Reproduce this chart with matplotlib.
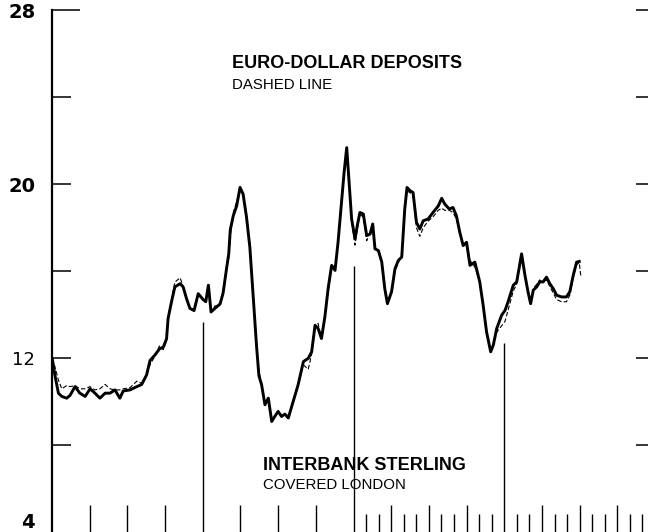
import numpy as np
import matplotlib
matplotlib.use('Agg')
import matplotlib.pyplot as plt

# time axis (one unit per major tick)
t = [0.01, 0.08, 0.17, 0.26, 0.39, 0.48, 0.61, 0.74, 0.88, 1.01,
     1.14, 1.27, 1.41, 1.54, 1.67, 1.80, 1.89, 2.07, 2.25, 2.38,
     2.51, 2.60, 2.73, 2.86, 2.95, 3.04, 3.08, 3.18, 3.26, 3.40,
     3.48, 3.57, 3.66, 3.77, 3.88, 4.01, 4.08, 4.15, 4.22, 4.32,
     4.46, 4.54, 4.63, 4.69, 4.73, 4.81, 4.90, 4.99, 5.07, 5.16,
     5.25, 5.34, 5.43, 5.49, 5.56, 5.65, 5.74, 5.83, 5.91, 6.00,
     6.09, 6.18, 6.27, 6.40, 6.53, 6.67, 6.80, 6.89, 6.98, 7.06,
     7.15, 7.24, 7.33, 7.42, 7.51, 7.59, 7.68, 7.75, 7.82, 7.89,
     7.95, 8.04, 8.10, 8.17, 8.26, 8.35, 8.44, 8.51, 8.57, 8.66,
     8.75, 8.83, 8.90, 9.01, 9.10, 9.19, 9.28, 9.36, 9.42, 9.50,
     9.58, 9.67, 9.76, 9.85, 9.98, 10.11, 10.25, 10.34, 10.42, 10.54,
     10.64, 10.73, 10.82, 10.91, 11.00, 11.09, 11.22, 11.35, 11.44, 11.53,
     11.64, 11.71, 11.80, 11.93, 12.02, 12.10, 12.24, 12.33, 12.39, 12.46,
     12.55, 12.63, 12.70, 12.77, 12.86, 12.94, 13.03, 13.12, 13.21, 13.30,
     13.39, 13.52, 13.65, 13.74, 13.83, 13.92, 13.99]

# interbank sterling, covered London (solid)
sterling = [11.95, 11.2, 10.4, 10.25, 10.17, 10.3, 10.7, 10.4, 10.25, 10.6,
            10.4, 10.17, 10.4, 10.4, 10.55, 10.17, 10.5, 10.55, 10.7, 10.8,
            11.24, 11.9, 12.15, 12.45, 12.5, 12.9, 13.83, 14.67, 15.28, 15.43,
            15.28, 14.74, 14.29, 14.2, 14.97, 14.7, 14.6, 15.36, 14.13, 14.29,
            14.5, 15.0, 16.11, 16.8, 17.9, 18.55, 19.0, 19.85, 19.55, 18.5,
            17.1, 14.8, 12.5, 11.2, 10.8, 9.87, 10.17, 9.1, 9.33, 9.56,
            9.33, 9.44, 9.26, 10.02, 10.78, 11.85, 12.0, 12.3, 13.52, 13.37,
            12.91, 13.9, 15.25, 16.27, 16.04, 17.33, 19.16, 20.53, 21.68, 19.92,
            18.4, 17.49, 18.1, 18.7, 18.63, 17.64, 17.71, 18.17, 17.03, 16.95,
            16.42, 15.2, 14.51, 15.06, 16.11, 16.5, 16.65, 18.86, 19.85, 19.7,
            19.62, 18.25, 17.94, 18.32, 18.4, 18.7, 19.0, 19.35, 19.09, 18.86,
            18.93, 18.55, 17.79, 17.18, 17.33, 16.27, 16.42, 15.51, 14.44, 13.22,
            12.3, 12.61, 13.37, 13.98, 14.2, 14.59, 15.36, 15.51, 16.11, 16.8,
            15.81, 15.06, 14.51, 15.13, 15.28, 15.51, 15.51, 15.73, 15.43, 15.2,
            14.9, 14.82, 14.82, 15.06, 15.81, 16.42, 16.45]

# euro-dollar deposits (dashed), same dates plus one last point
t_euro = t + [14.03]
euro = [12.0, 11.6, 11.0, 10.6, 10.75, 10.7, 10.75, 10.6, 10.6, 10.7,
        10.55, 10.6, 10.8, 10.6, 10.55, 10.55, 10.6, 10.65, 10.95, 10.85,
        11.2, 11.7, 12.1, 12.6, 12.4, 12.8, 13.7, 14.8, 15.5, 15.7,
        15.3, 14.7, 14.3, 14.15, 14.9, 14.75, 14.6, 15.2, 14.1, 14.4,
        14.45, 15.0, 16.2, 16.6, 17.6, 18.7, 19.2, 19.8, 19.5, 18.6,
        17.2, 14.9, 12.6, 11.5, 10.8, 10.0, 10.1, 9.2, 9.3, 9.5,
        9.4, 9.4, 9.3, 10.1, 10.8, 11.7, 11.5, 12.2, 13.4, 13.6,
        12.9, 13.9, 15.0, 16.3, 16.2, 17.3, 19.1, 20.4, 21.6, 19.8,
        18.3, 17.2, 17.9, 18.6, 18.5, 17.4, 17.8, 18.0, 17.1, 16.9,
        16.5, 15.2, 14.6, 15.0, 16.0, 16.4, 16.7, 18.7, 19.7, 19.6,
        19.5, 18.0, 17.6, 18.0, 18.3, 18.5, 18.8, 18.9, 18.8, 18.8,
        18.7, 18.4, 17.8, 17.2, 17.3, 16.5, 16.2, 15.5, 14.4, 13.2,
        12.35, 12.6, 13.2, 13.5, 13.7, 14.2, 15.1, 15.4, 16.0, 16.6,
        15.9, 15.0, 14.6, 15.2, 15.4, 15.6, 15.5, 15.6, 15.3, 15.0,
        14.7, 14.6, 14.6, 14.9, 15.7, 16.3, 16.4, 15.8]

yticks = [4, 8, 12, 16, 20, 24, 28]
ytick_labels = ['', '', '12', '', '20', '', '28']

# tall marker lines rising from the time axis: (position, top value)
marker_pos = [4, 8, 12]
marker_top = [13.68, 16.25, 12.69]

W, H = 648, 532
fig = plt.figure(figsize=(W / 100, H / 100), dpi=100)
ax = fig.add_axes([52 / W, -0.5 / H, 603 / W, 522.5 / H])

ax.plot(t, sterling, color='black', lw=2.1, solid_joinstyle='round', zorder=3)
ax.plot(t_euro, euro, color='black', lw=0.8, dashes=(4, 2), zorder=4)
ax.vlines(marker_pos, 4, marker_top, color='black', lw=1.0)

ax.set_xlim(0, 16)
ax.set_ylim(4, 28)

for s in ['top', 'right']:
    ax.spines[s].set_visible(False)
ax.spines['left'].set_linewidth(1.6)
ax.spines['bottom'].set_linewidth(1.0)
ax.spines['bottom'].set_color('#999999')

# y ticks on both sides, pointing in
ax.set_yticks(yticks)
ax.set_yticklabels(ytick_labels)
ax.tick_params(axis='y', which='major', direction='in', length=14, width=1.1,
               left=True, right=True, pad=12, labelsize=13)
for lab in ax.get_yticklabels():
    if lab.get_text() in ('28', '20'):
        lab.set_fontweight('bold')
        lab.set_fontsize(14)
ax.yaxis.get_major_ticks()[-1].tick1line.set_markersize(20)

# the bottom label sits a little higher than its tick
fig.text(35 / W, 1 - 523 / H, '4', fontsize=14, fontweight='bold',
         ha='right', va='center')

# time ticks: yearly on the left half, thirds on the right half
xmaj = [1, 2, 3, 5, 6, 7, 9, 10, 11, 13, 14, 15]
xmin = [k + f for k in range(8, 16) for f in (1 / 3, 2 / 3)]
ax.set_xticks(xmaj)
ax.set_xticks(xmin, minor=True)
ax.tick_params(axis='x', which='major', direction='in', length=20, width=1.0,
               labelbottom=False)
ax.tick_params(axis='x', which='minor', direction='in', length=14, width=1.0)

# captions, placed in picture pixels (from top-left)
fig.text(232 / W, 1 - 64 / H, 'EURO-DOLLAR DEPOSITS', fontsize=13,
         fontweight='bold', family='Liberation Sans', va='center')
fig.text(232 / W, 1 - 85 / H, 'DASHED LINE', fontsize=10.8,
         family='Liberation Sans', va='center')
fig.text(263 / W, 1 - 465 / H, 'INTERBANK STERLING', fontsize=13,
         fontweight='bold', family='Liberation Sans', va='center')
fig.text(263 / W, 1 - 485 / H, 'COVERED LONDON', fontsize=10.8,
         family='Liberation Sans', va='center')

fig.savefig('out.png', dpi=100)
